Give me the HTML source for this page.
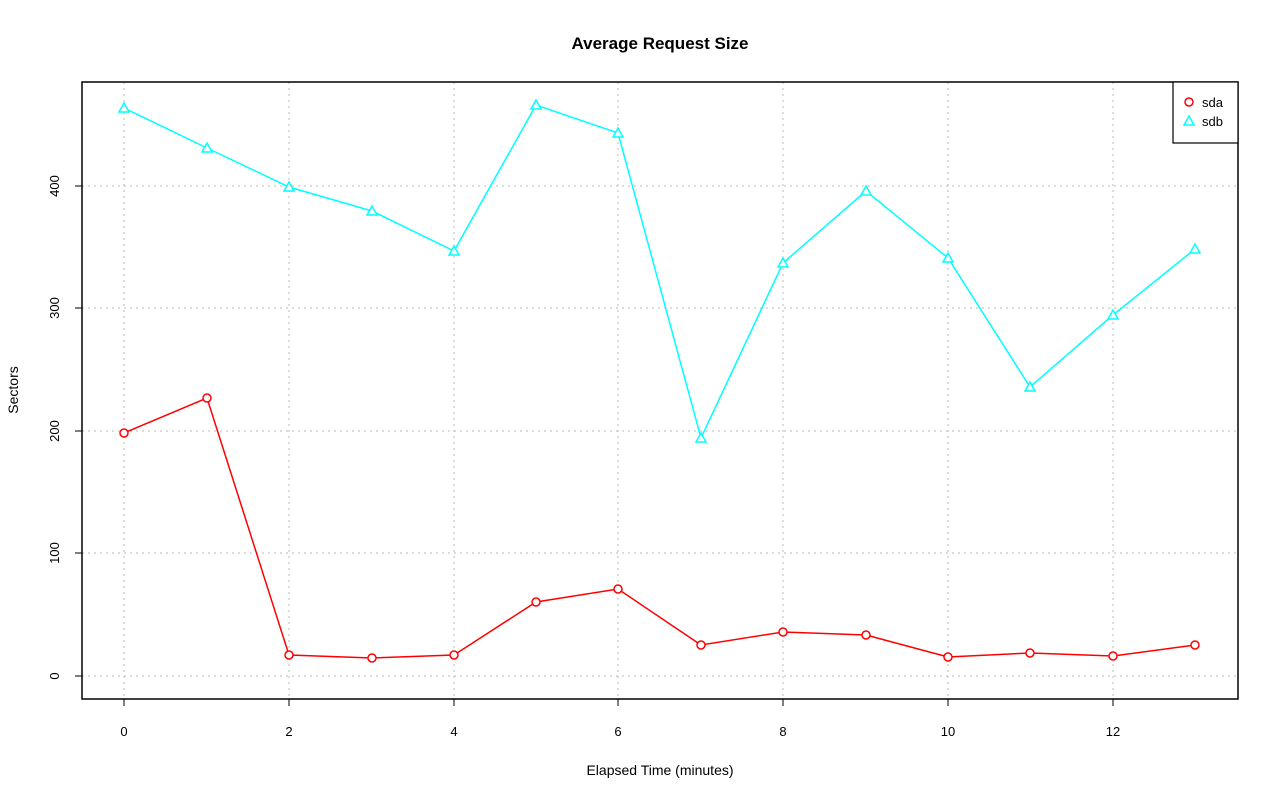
<!DOCTYPE html>
<html><head><meta charset="utf-8"><style>body{margin:0;background:#fff}svg{display:block}text{font-family:"Liberation Sans",sans-serif;fill:#000}</style></head>
<body>
<svg width="1280" height="801" viewBox="0 0 1280 801" xmlns="http://www.w3.org/2000/svg">
<rect width="1280" height="801" fill="#fff"/>
<g stroke="#bbb" stroke-dasharray="2,4" stroke-width="1">
<line x1="124" y1="82" x2="124" y2="699"/><line x1="289" y1="82" x2="289" y2="699"/>
<line x1="454" y1="82" x2="454" y2="699"/><line x1="618" y1="82" x2="618" y2="699"/>
<line x1="783" y1="82" x2="783" y2="699"/><line x1="948" y1="82" x2="948" y2="699"/>
<line x1="1113" y1="82" x2="1113" y2="699"/>
<line x1="82" y1="676" x2="1238" y2="676"/><line x1="82" y1="553" x2="1238" y2="553"/>
<line x1="82" y1="431" x2="1238" y2="431"/><line x1="82" y1="308" x2="1238" y2="308"/>
<line x1="82" y1="186" x2="1238" y2="186"/>
</g>
<rect x="82" y="82" width="1156" height="617" fill="none" stroke="#000" stroke-width="1.5"/>
<g stroke="#000" stroke-width="1">
<line x1="124" y1="699" x2="124" y2="706"/><line x1="289" y1="699" x2="289" y2="706"/>
<line x1="454" y1="699" x2="454" y2="706"/><line x1="618" y1="699" x2="618" y2="706"/>
<line x1="783" y1="699" x2="783" y2="706"/><line x1="948" y1="699" x2="948" y2="706"/>
<line x1="1113" y1="699" x2="1113" y2="706"/>
<line x1="82" y1="676" x2="75" y2="676"/><line x1="82" y1="553" x2="75" y2="553"/>
<line x1="82" y1="431" x2="75" y2="431"/><line x1="82" y1="308" x2="75" y2="308"/>
<line x1="82" y1="186" x2="75" y2="186"/>
</g>
<g font-size="13" text-anchor="middle">
<text x="124" y="736">0</text><text x="289" y="736">2</text><text x="454" y="736">4</text>
<text x="618" y="736">6</text><text x="783" y="736">8</text><text x="948" y="736">10</text>
<text x="1113" y="736">12</text>
<text transform="translate(59,676) rotate(-90)">0</text>
<text transform="translate(59,553) rotate(-90)">100</text>
<text transform="translate(59,431) rotate(-90)">200</text>
<text transform="translate(59,308) rotate(-90)">300</text>
<text transform="translate(59,186) rotate(-90)">400</text>
<text x="660" y="775" font-size="14">Elapsed Time (minutes)</text>
<text transform="translate(18,390) rotate(-90)" font-size="14">Sectors</text>
<text x="660" y="49" font-size="17" font-weight="bold">Average Request Size</text>
</g>
<polyline fill="none" stroke="#00ffff" stroke-width="1.5" points="124,108 207,148 289,187 372,211 454,251 536,105 618,133 701,438 783,263 866,191 948,258 1030,387 1113,315 1195,249"/>
<g fill="#fff" stroke="#00ffff" stroke-width="1.5">
<path d="M124,103l5,9h-10z"/><path d="M207,143l5,9h-10z"/><path d="M289,182l5,9h-10z"/><path d="M372,206l5,9h-10z"/><path d="M454,246l5,9h-10z"/><path d="M536,100l5,9h-10z"/><path d="M618,128l5,9h-10z"/><path d="M701,433l5,9h-10z"/><path d="M783,258l5,9h-10z"/><path d="M866,186l5,9h-10z"/><path d="M948,253l5,9h-10z"/><path d="M1030,382l5,9h-10z"/><path d="M1113,310l5,9h-10z"/><path d="M1195,244l5,9h-10z"/>
</g>
<polyline fill="none" stroke="#ff0000" stroke-width="1.5" points="124,433 207,398 289,655 372,658 454,655 536,602 618,589 701,645 783,632 866,635 948,657 1030,653 1113,656 1195,645"/>
<g fill="#fff" stroke="#ff0000" stroke-width="1.5">
<circle cx="124" cy="433" r="4"/><circle cx="207" cy="398" r="4"/><circle cx="289" cy="655" r="4"/><circle cx="372" cy="658" r="4"/><circle cx="454" cy="655" r="4"/><circle cx="536" cy="602" r="4"/><circle cx="618" cy="589" r="4"/><circle cx="701" cy="645" r="4"/><circle cx="783" cy="632" r="4"/><circle cx="866" cy="635" r="4"/><circle cx="948" cy="657" r="4"/><circle cx="1030" cy="653" r="4"/><circle cx="1113" cy="656" r="4"/><circle cx="1195" cy="645" r="4"/>
</g>
<rect x="1173" y="82" width="65" height="61" fill="#fff" stroke="#000" stroke-width="1.2"/>
<circle cx="1189" cy="102" r="4" fill="#fff" stroke="#ff0000" stroke-width="1.5"/>
<path d="M1189,116l5,9h-10z" fill="#fff" stroke="#00ffff" stroke-width="1.5"/>
<text x="1202" y="107" font-size="13">sda</text>
<text x="1202" y="126" font-size="13">sdb</text>
</svg>
</body></html>
